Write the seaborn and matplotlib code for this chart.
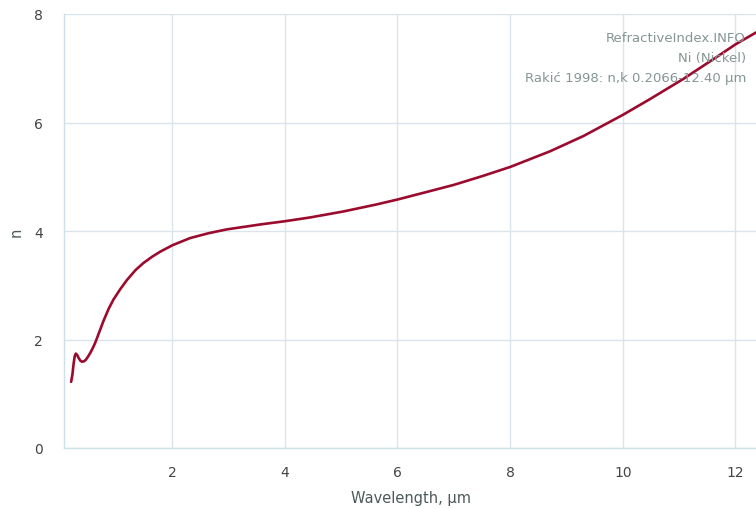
import numpy as np
import pandas as pd
import matplotlib
matplotlib.use("Agg")
import matplotlib.pyplot as plt
import seaborn as sns

wavelength_um = [0.2066, 0.23, 0.25, 0.27, 0.29, 0.31, 0.34, 0.37, 0.40, 0.44, 0.47,
                 0.51, 0.55, 0.59, 0.63, 0.66, 0.70, 0.78, 0.87, 0.96, 1.08, 1.20,
                 1.35, 1.49, 1.65, 1.79, 2.01, 2.32, 2.65, 2.97, 3.30, 3.56, 4.00,
                 4.45, 5.04, 5.63, 6.00, 6.52, 7.00, 7.50, 8.00, 8.71, 9.30, 10.00,
                 10.48, 11.07, 11.67, 12.00, 12.40]
n_values = [1.22, 1.36, 1.55, 1.69, 1.74, 1.72, 1.66, 1.61, 1.59, 1.60, 1.63,
            1.69, 1.76, 1.84, 1.93, 2.01, 2.12, 2.34, 2.56, 2.74, 2.93, 3.10,
            3.28, 3.41, 3.53, 3.62, 3.74, 3.87, 3.96, 4.03, 4.08, 4.12, 4.18,
            4.25, 4.36, 4.49, 4.58, 4.72, 4.85, 5.01, 5.18, 5.47, 5.75, 6.14,
            6.43, 6.80, 7.21, 7.44, 7.68]
x_ticks = [2, 4, 6, 8, 10, 12]
y_ticks = [0, 2, 4, 6, 8]
info_lines = ["RefractiveIndex.INFO", "Ni (Nickel)", "Raki\u0107 1998: n,k 0.2066-12.40 \u00b5m"]

df = pd.DataFrame({"Wavelength": wavelength_um, "n": n_values})

sns.set_theme(style="white")
plt.rcParams["font.family"] = ["DejaVu Sans"]

fig = plt.figure(figsize=(7.56, 5.10), dpi=100)
ax = fig.add_axes([64 / 756, 61 / 510, 694 / 756, 434 / 510])

sns.lineplot(data=df, x="Wavelength", y="n", ax=ax, color="#9b0b2d", linewidth=1.9)
ax.lines[0].set_solid_joinstyle("round")

ax.set_xlim(0.08, 12.4)
ax.set_ylim(0, 8)
ax.set_xticks(x_ticks)
ax.set_yticks(y_ticks)
grid_c = "#d9e5ea"
ax.grid(True, color=grid_c, linewidth=1.0)
ax.set_axisbelow(True)
for side in ["top", "right"]:
    ax.spines[side].set_visible(False)
ax.spines["left"].set_color("#cfe0ea")
ax.spines["bottom"].set_color("#cfe0ea")
ax.spines["left"].set_linewidth(1.0)
ax.spines["bottom"].set_linewidth(1.0)
ax.tick_params(axis="x", length=0, pad=12, labelsize=10, labelcolor="#444444")
ax.tick_params(axis="y", length=0, pad=15, labelsize=10, labelcolor="#444444")
ax.set_xlabel("Wavelength, \u00b5m", fontsize=10.5, color="#4d5a5a", labelpad=8)
ax.set_ylabel("n", fontsize=10.5, color="#4d5a5a", labelpad=8)

for i, line in enumerate(info_lines):
    ax.text(0.9826, 0.945 - i * 0.046, line, transform=ax.transAxes, ha="right", va="center",
            fontsize=9.5, color="#869595")

fig.savefig("out.png", dpi=100)
